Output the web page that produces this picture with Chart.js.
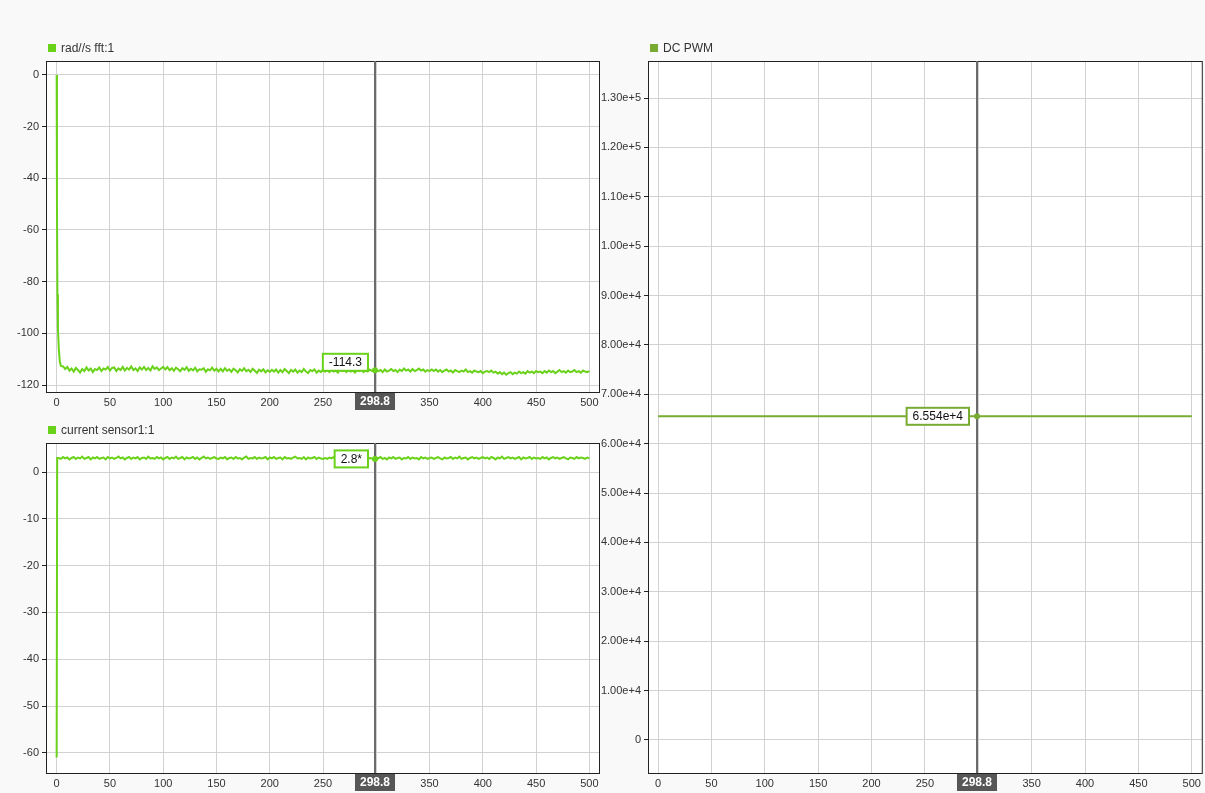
<!DOCTYPE html>
<html>
<head>
<meta charset="utf-8">
<script src="https://cdn.jsdelivr.net/npm/chart.js@4/dist/chart.umd.min.js"></script>
<style>
  html, body { margin:0; padding:0; background:#f9f9f9; width:1205px; height:793px; overflow:hidden; }
  canvas { position:absolute; left:0; top:0; }
</style>
</head>
<body>
<canvas id="c1" width="1205" height="793"></canvas>
<canvas id="c2" width="1205" height="793"></canvas>
<canvas id="c3" width="1205" height="793"></canvas>
<script>
// ---------- data ----------
const seriesNames = ["rad//s fft:1", "current sensor1:1", "DC PWM"];
const cursorTime = 298.8;
const cursorTimeLabel = "298.8";
const cursorValueLabels = ["-114.3", "2.8*", "6.554e+4"];
const cursorValues = [-114.3, 2.8, 65540];

const xTicks = [0, 50, 100, 150, 200, 250, 300, 350, 400, 450, 500];
const yTicksFft = [0, -20, -40, -60, -80, -100, -120];
const yTicksCur = [0, -10, -20, -30, -40, -50, -60];
const yTicksPwm = [0, 10000, 20000, 30000, 40000, 50000, 60000, 70000, 80000, 90000, 100000, 110000, 120000, 130000];

// rad/s fft: initial transient then samples every 2 s from t=4
const fftHeadT = [0, 0.3, 0.7, 1.2, 2, 3];
const fftHeadV = [0, -50, -85, -98, -106, -111];
const fftStart = 4, fftStep = 2;
const fftV = [
-112.6,-112.8,-113.8,-113.0,-114.4,-113.6,-114.8,-113.4,-114.2,-115.2,-113.8,-114.6,-113.2,-114.4,-113.6,-115.0,-113.8,-114.2,-113.2,-114.6,-113.6,-114.0,-113.0,-114.4,-113.4,
-113.2,-114.6,-113.6,-114.2,-113.0,-114.4,-113.4,-114.0,-112.8,-114.2,-113.6,-114.6,-113.2,-114.0,-113.0,-114.2,-113.4,-114.4,-112.8,-113.8,-113.2,-114.2,-113.6,-113.0,-114.0,
-113.1,-114.3,-113.5,-114.5,-113.3,-113.9,-114.7,-113.5,-114.1,-113.1,-114.5,-113.7,-114.3,-113.3,-114.7,-113.9,-114.1,-113.5,-114.9,-113.9,-114.3,-113.3,-114.5,-113.7,-114.7,
-113.7,-114.7,-113.5,-114.5,-113.9,-114.9,-113.7,-114.3,-115.1,-113.9,-114.5,-113.5,-114.7,-114.1,-114.9,-113.7,-114.5,-115.3,-114.1,-114.7,-113.9,-115.1,-114.3,-114.9,-114.1,
-114.8,-114.0,-115.2,-114.2,-115.0,-113.8,-114.6,-115.4,-114.2,-114.8,-114.0,-115.2,-114.4,-115.0,-113.8,-114.8,-115.4,-114.2,-114.6,-114.0,-115.2,-114.4,-115.0,-114.0,-114.8,
-114.2,-115.0,-114.0,-114.8,-114.4,-115.2,-113.8,-114.6,-114.2,-115.0,-114.0,-114.8,-114.4,-115.2,-114.2,-114.6,-113.8,-115.0,-114.4,-114.8,-114.0,-114.6,-114.0,-114.2,-114.6,
-114.2,-115.0,-114.0,-114.8,-114.4,-113.8,-114.6,-114.2,-115.0,-114.0,-114.6,-113.6,-114.4,-114.0,-114.8,-113.8,-114.6,-114.2,-113.6,-114.4,-114.0,-114.8,-114.2,-114.6,-114.0,
-114.6,-114.0,-114.8,-114.2,-115.0,-114.4,-114.0,-114.8,-114.4,-115.2,-114.2,-114.6,-115.0,-114.4,-114.8,-114.0,-115.0,-114.6,-115.2,-114.4,-114.8,-115.0,-114.6,-115.4,-114.8,
-114.6,-115.0,-114.4,-115.2,-114.8,-115.6,-115.0,-115.8,-115.2,-116.0,-115.4,-115.0,-115.8,-115.2,-115.6,-114.8,-115.4,-115.0,-115.6,-114.6,-115.2,-114.8,-115.4,-114.6,-115.0,
-114.8,-115.4,-114.6,-115.2,-114.4,-115.0,-114.6,-115.4,-114.8,-114.2,-115.0,-114.6,-115.2,-114.4,-115.0,-114.8,-114.2,-115.0,-114.6,-115.2,-114.4,-114.8,-115.0,-114.6
];

// current sensor: initial point then samples every 2 s from t=2
const curHeadT = [0, 0.5];
const curHeadV = [-61, 3.0];
const curStart = 2, curStep = 2;
const curV = [
3.0,2.8,3.2,2.9,3.1,2.7,3.0,3.2,2.8,3.1,2.9,3.3,2.8,3.0,3.2,2.7,3.1,2.9,3.2,2.8,3.0,3.1,2.7,3.2,2.9,
3.1,2.8,3.0,3.3,2.9,3.1,2.7,3.0,3.2,2.8,3.1,2.9,3.2,2.7,3.0,3.1,2.8,3.3,2.9,3.0,2.8,3.2,2.9,3.1,2.7,
3.0,3.2,2.8,3.1,2.9,3.3,2.8,3.0,3.2,2.7,3.1,2.9,3.0,3.2,2.8,3.1,2.7,3.0,3.3,2.9,3.1,2.8,3.0,3.2,2.9,
2.8,3.1,2.9,3.2,2.7,3.0,3.1,2.8,3.2,2.9,3.0,2.7,3.1,3.3,2.8,3.0,2.9,3.2,2.8,3.1,2.9,3.0,3.2,2.7,3.1,
2.9,3.2,2.8,3.0,3.1,2.7,3.2,2.9,3.0,2.8,3.1,3.3,2.9,3.0,2.8,3.2,2.7,3.1,2.9,3.0,3.2,2.8,3.1,2.9,2.8,
3.0,2.8,3.1,2.9,3.2,2.7,3.0,2.9,3.1,2.8,3.2,3.0,2.7,3.1,2.9,3.2,2.8,3.0,3.1,2.9,2.8,3.0,2.9,2.8,3.1,
2.9,3.2,2.8,3.0,2.7,3.1,2.9,3.2,2.8,3.0,3.1,2.7,3.0,2.9,3.2,2.8,3.1,2.9,3.0,2.7,3.2,2.9,3.1,2.8,3.0,
3.1,2.8,3.0,3.2,2.9,2.7,3.1,2.9,3.0,3.2,2.8,3.1,2.9,3.3,2.8,3.0,3.1,2.7,3.0,3.2,2.9,3.1,2.8,3.0,3.2,
2.9,3.1,2.8,3.2,3.0,2.7,3.1,2.9,3.3,2.8,3.0,3.2,2.9,3.1,2.8,3.0,3.2,2.7,3.1,2.9,3.0,3.2,2.8,3.1,2.9,
3.0,2.8,3.2,2.9,3.1,2.7,3.0,3.2,2.9,3.1,2.8,3.0,3.2,2.9,2.7,3.1,3.0,2.8,3.2,2.9,3.1,3.0,2.8,3.1,2.9
];

// DC PWM: constant
const pwmT = [0, 500];
const pwmV = [65540, 65540];

// ---------- helpers ----------
function buildPoints(headT, headV, start, step, vals) {
  const pts = headT.map((t, i) => ({ x: t, y: headV[i] }));
  vals.forEach((v, i) => pts.push({ x: start + i * step, y: v }));
  return pts;
}
const fftData = buildPoints(fftHeadT, fftHeadV, fftStart, fftStep, fftV);
const curData = buildPoints(curHeadT, curHeadV, curStart, curStep, curV);
const pwmData = pwmT.map((t, i) => ({ x: t, y: pwmV[i] }));

const FONT = '"Liberation Sans", Arial, Helvetica, sans-serif';
const GREEN = '#6ad21b';
const OLIVE = '#78ab32';

const overlay = {
  id: 'overlay',
  beforeDraw(chart) {
    const a = chart.chartArea, ctx = chart.ctx;
    ctx.save();
    ctx.fillStyle = '#ffffff';
    ctx.fillRect(a.left, a.top, a.right - a.left, a.bottom - a.top);
    ctx.restore();
  },
  afterDatasetsDraw(chart, args, opts) {
    const a = chart.chartArea, ctx = chart.ctx;
    const xs = chart.scales.x, ys = chart.scales.y;
    ctx.save();
    // border box
    ctx.strokeStyle = '#222';
    ctx.lineWidth = 1;
    ctx.strokeRect(a.left + 0.5, a.top + 0.5, a.right - a.left - 1, a.bottom - a.top);
    // cursor line
    const cx = Math.round(xs.getPixelForValue(cursorTime));
    ctx.strokeStyle = '#6b6b6b';
    ctx.lineWidth = 2;
    ctx.beginPath();
    ctx.moveTo(cx, a.top);
    ctx.lineTo(cx, a.bottom);
    ctx.stroke();
    // dot
    const py = ys.getPixelForValue(opts.value);
    ctx.fillStyle = opts.color;
    ctx.beginPath();
    ctx.arc(cx, py, 3, 0, Math.PI * 2);
    ctx.fill();
    // value label
    ctx.font = '12px ' + FONT;
    const tw = ctx.measureText(opts.label).width;
    const bw = tw + 12, bh = 17;
    const bx = cx - opts.gap - bw;
    const by = py + opts.dy - bh / 2;
    ctx.fillStyle = '#fff';
    ctx.fillRect(bx, by, bw, bh);
    ctx.strokeStyle = opts.color;
    ctx.lineWidth = 2;
    ctx.strokeRect(bx, by, bw, bh);
    ctx.fillStyle = '#111';
    ctx.textAlign = 'center';
    ctx.textBaseline = 'middle';
    ctx.fillText(opts.label, bx + bw / 2, by + bh / 2 + 0.5);
    // x cursor label
    ctx.font = 'bold 12px ' + FONT;
    const xw = ctx.measureText(cursorTimeLabel).width + 10;
    ctx.fillStyle = '#575757';
    ctx.fillRect(cx - xw / 2, a.bottom + 1, xw, 17);
    ctx.fillStyle = '#fff';
    ctx.fillText(cursorTimeLabel, cx, a.bottom + 10);
    // legend
    ctx.fillStyle = opts.color;
    ctx.fillRect(a.left + 2, a.top - 17, 8, 8);
    ctx.font = '12px ' + FONT;
    ctx.fillStyle = '#333';
    ctx.textAlign = 'left';
    ctx.textBaseline = 'middle';
    ctx.fillText(opts.name, a.left + 15, a.top - 12.5);
    ctx.restore();
  }
};

function makeChart(id, data, color, yMin, yMax, yTicks, xMin, xMax, padding, yWidth, yFmt, ov) {
  return new Chart(document.getElementById(id), {
    type: 'line',
    data: { datasets: [{ data: data, borderColor: color, borderWidth: 2, pointRadius: 0, tension: 0, fill: false }] },
    options: {
      responsive: false, animation: false, devicePixelRatio: 1,
      layout: { padding: padding },
      plugins: { legend: { display: false }, tooltip: { enabled: false }, overlay: ov },
      scales: {
        x: {
          type: 'linear', min: xMin, max: xMax,
          afterBuildTicks: s => { s.ticks = xTicks.map(v => ({ value: v })); },
          afterFit: s => { s.height = 18; },
          grid: { color: '#d2d2d2', drawTicks: false },
          border: { display: false },
          ticks: { padding: 4, color: '#333', font: { family: FONT, size: 11 }, maxRotation: 0, autoSkip: false }
        },
        y: {
          type: 'linear', min: yMin, max: yMax,
          afterBuildTicks: s => { s.ticks = yTicks.map(v => ({ value: v })); },
          afterFit: s => { s.width = yWidth; },
          grid: { color: '#d2d2d2', tickLength: 4, tickColor: '#222' },
          border: { display: false },
          ticks: { padding: 3, color: '#333', font: { family: FONT, size: 11 }, autoSkip: false, callback: yFmt }
        }
      }
    },
    plugins: [overlay]
  });
}

const plainFmt = v => String(v);
const expFmt = v => v === 0 ? '0' : v.toExponential(2);

makeChart('c1', fftData, GREEN, -122.7, 5.4, yTicksFft, -10, 510,
  { left: 0, top: 61, right: 605, bottom: 383 }, 46, plainFmt,
  { name: seriesNames[0], label: cursorValueLabels[0], value: cursorValues[0], color: GREEN, gap: 7, dy: -8 });

makeChart('c2', curData, GREEN, -64.3, 6.2, yTicksCur, -10, 510,
  { left: 0, top: 443, right: 605, bottom: 2 }, 46, plainFmt,
  { name: seriesNames[1], label: cursorValueLabels[1], value: cursorValues[1], color: GREEN, gap: 7, dy: 0 });

makeChart('c3', pwmData, OLIVE, -6700, 137500, yTicksPwm, -9.4, 510.3,
  { left: 590, top: 61, right: 2, bottom: 2 }, 58, expFmt,
  { name: seriesNames[2], label: cursorValueLabels[2], value: cursorValues[2], color: OLIVE, gap: 8, dy: 0 });
</script>
</body>
</html>
